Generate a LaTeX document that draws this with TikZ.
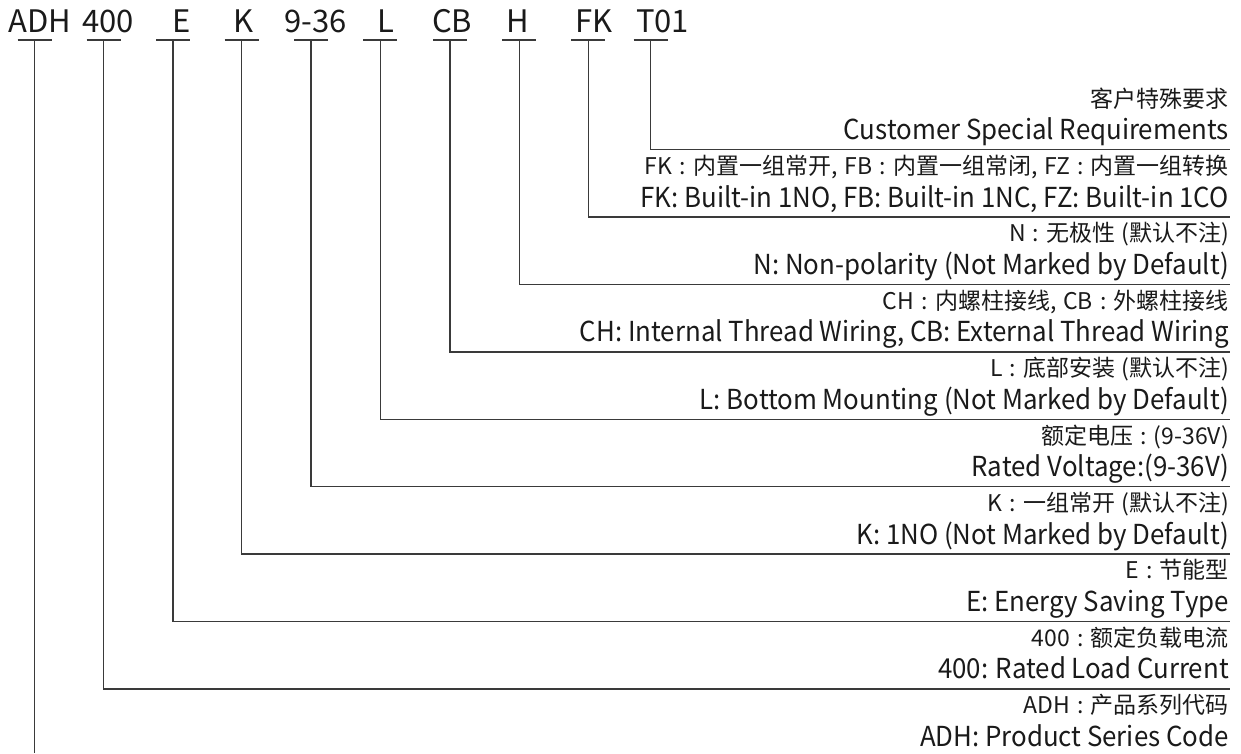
\documentclass[tikz,border=0pt]{standalone}
\usepackage{fontspec}
\setmainfont{Noto Sans CJK SC}
\newfontfamily\enfont[FakeStretch=0.94]{Noto Sans CJK SC}
\newcommand{\zc}{\makebox[0.9em]{:}}
\newcommand{\zk}{,\hspace{0.3em}}
\newcommand{\zp}{\hspace{0.25em}}
\definecolor{txt}{HTML}{1A1A1A}
\definecolor{ln}{HTML}{3A3A3A}
\tikzset{
  code/.style={anchor=base west, inner sep=0pt, text=txt, font=\fontsize{31}{31}\selectfont},
  zh/.style={anchor=base east, inner sep=0pt, text=txt, font=\fontsize{23}{24}\selectfont},
  en/.style={anchor=base east, inner sep=0pt, text=txt, font=\enfont\fontsize{27.5}{28}\selectfont},
  lead/.style={draw=ln, line width=1.3pt},
}
\begin{document}
\begin{tikzpicture}[x=1pt,y=-1pt]
\useasboundingbox (0,0) rectangle (1241,753);
% codes
\node[code] (cADH) at (8,32.3) {ADH};
\node[code] (c400) at (82,32.3) {400};
\node[code] (cE) at (172.6,32.3) {E};
\node[code] (cK) at (233,32.3) {K};
\node[code] (c936) at (284,32.3) {9-36};
\node[code] (cL) at (377.6,32.3) {L};
\node[code] (cCB) at (432,32.3) {CB};
\node[code] (cH) at (506,32.3) {H};
\node[code] (cFK) at (575,32.3) {FK};
\node[code] (cT) at (636,32.3) {T01};
% underline midpoints
\foreach \n/\x in {ADH/34.7,400/103.7,E/173,K/241.7,936/311,L/380.3,CB/450,H/519.3,FK/588.3,T/650.7}{
  \coordinate (u\n) at (\x,40);
  \draw[lead] ([xshift=-17pt]u\n) -- ([xshift=17pt]u\n);
}
% line ends
\foreach \n/\y in {T/149.7,FK/217.1,H/284.5,CB/351.9,L/419.3,936/486.7,K/554.1,E/621.5,400/688.9}{
  \coordinate (e\n) at (1230,\y);
  \draw[lead] (u\n) |- (e\n);
}
\coordinate (eADH) at (34.7,753);
\draw[lead] (uADH) -- (eADH);
% descriptions
\node[zh] (zT) at (1229,107) {客户特殊要求};
\node[en] (nT) at (1229,139.7) {Customer Special Requirements};
\node[zh] (zFK) at (1229,174.4) {FK\zc 内置一组常开\zk FB\zc 内置一组常闭\zk FZ\zc 内置一组转换};
\node[en] (nFK) at (1229,207.1) {FK: Built-in 1NO, FB: Built-in 1NC, FZ: Built-in 1CO};
\node[zh] (zH) at (1229,241.8) {N\zc 无极性\zp(默认不注)};
\node[en] (nH) at (1229,274.5) {N: Non-polarity (Not Marked by Default)};
\node[zh] (zCB) at (1229,309.2) {CH\zc 内螺柱接线\zk CB\zc 外螺柱接线};
\node[en] (nCB) at (1229,341.9) {CH: Internal Thread Wiring, CB: External Thread Wiring};
\node[zh] (zL) at (1229,376.6) {L\zc 底部安装\zp(默认不注)};
\node[en] (nL) at (1229,409.3) {L: Bottom Mounting (Not Marked by Default)};
\node[zh] (z936) at (1229,444) {额定电压\zc(9-36V)};
\node[en] (n936) at (1229,476.7) {Rated Voltage:(9-36V)};
\node[zh] (zK) at (1229,511.4) {K\zc 一组常开\zp(默认不注)};
\node[en] (nK) at (1229,544.1) {K: 1NO (Not Marked by Default)};
\node[zh] (zE) at (1229,578.8) {E\zc 节能型};
\node[en] (nE) at (1229,611.5) {E: Energy Saving Type};
\node[zh] (z400) at (1229,646.2) {400\zc 额定负载电流};
\node[en] (n400) at (1229,678.9) {400: Rated Load Current};
\node[zh] (zADH) at (1229,713.6) {ADH\zc 产品系列代码};
\node[en] (nADH) at (1229,746.3) {ADH: Product Series Code};
\end{tikzpicture}
\end{document}
